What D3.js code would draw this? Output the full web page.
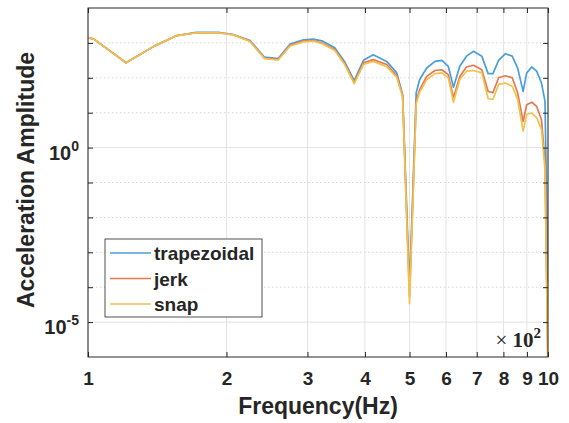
<!DOCTYPE html>
<html>
<head>
<meta charset="utf-8">
<script src="https://cdn.jsdelivr.net/npm/d3@7"></script>
<style>
  body { margin: 0; background: #fff; }
  text { font-family: Arial, "Liberation Sans", sans-serif; font-weight: bold; fill: #262626; }
</style>
</head>
<body>
<div id="chart"></div>
<script>
// frequency samples (Hz)
var freq = [100,103,121,139,156,172,192,207,225,242,259,275,294,309,324,344,361,379,397,417,446,469,483,500,
            517,526,545,568,588,607,623,643,665,689,718,741,759,781,808,836,859,883,899,922,945,968,985,1000];

// amplitudes as log10 exponents
var trapLog = [3.15,3.11,2.43,2.90,3.21,3.30,3.30,3.24,3.07,2.59,2.55,2.97,3.09,3.11,3.05,2.86,2.47,1.92,2.50,2.66,2.47,2.14,1.52,-4.01,
               1.57,1.95,2.28,2.47,2.50,2.33,1.73,2.33,2.62,2.76,2.62,2.12,2.12,2.50,2.69,2.62,2.28,1.61,2.14,2.31,2.19,1.85,1.33,-3.87];
var jerkLog = [3.15,3.11,2.43,2.90,3.21,3.29,3.29,3.23,3.05,2.56,2.52,2.93,3.05,3.07,2.99,2.81,2.42,1.86,2.43,2.52,2.38,2.06,1.49,-4.27,
               1.33,1.66,2.04,2.21,2.23,2.09,1.42,2.04,2.31,2.36,2.23,1.61,1.57,2.00,2.06,2.00,1.57,0.75,1.23,1.30,1.18,0.80,-0.43,-6.5];
var snapLog = [3.15,3.11,2.43,2.90,3.21,3.29,3.29,3.23,3.04,2.55,2.51,2.91,3.03,3.05,2.97,2.78,2.39,1.83,2.38,2.47,2.32,2.01,1.46,-4.47,
               1.26,1.58,1.95,2.12,2.14,2.00,1.30,1.95,2.19,2.21,2.14,1.40,1.38,1.81,1.85,1.76,1.38,0.47,0.95,0.99,0.85,0.52,-0.63,-6.5];

var seriesNames = ["trapezoidal", "jerk", "snap"];
var colors = ["#4a9fd9", "#e4794f", "#f2c14e"];

var xTicks = [100,200,300,400,500,600,700,800,900,1000];
var yMajor = [1e-5, 1e0];
var yDecades = [1e-5,1e-4,1e-3,1e-2,1e-1,1e0,1e1,1e2,1e3];
var yLabels = ["-5", "0"];

var W = 569, H = 423;
var pL = 88, pR = 548, pT = 8, pB = 357;

var svg = d3.select("#chart").append("svg")
  .attr("width", W)
  .attr("height", H);

var x = d3.scaleLog().domain([100, 1000]).range([pL, pR]);
var y = d3.scaleLog().domain([1e-6, 1e4]).range([pB, pT]);

// grid
var grid = svg.append("g");
grid.selectAll(".vg").data(xTicks).enter().append("line")
  .attr("x1", d => x(d)).attr("x2", d => x(d))
  .attr("y1", pT).attr("y2", pB)
  .attr("stroke", "#e3e3e3").attr("stroke-width", 1);
grid.selectAll(".hg").data(yDecades).enter().append("line")
  .attr("x1", pL).attr("x2", pR)
  .attr("y1", d => y(d)).attr("y2", d => y(d))
  .attr("stroke", d => yMajor.indexOf(d) >= 0 ? "#e3e3e3" : "#d6d6d6")
  .attr("stroke-width", 1)
  .attr("stroke-dasharray", d => yMajor.indexOf(d) >= 0 ? null : "1.5,2.5");

// lines
svg.append("clipPath").attr("id", "clip")
  .append("rect").attr("x", pL).attr("y", pT).attr("width", pR - pL).attr("height", pB - pT);

var line = d3.line()
  .x((d, i) => x(freq[i]))
  .y(d => y(Math.pow(10, d)));

var allSeries = [trapLog, jerkLog, snapLog];
svg.append("g").attr("clip-path", "url(#clip)")
  .selectAll("path").data(allSeries).enter().append("path")
  .attr("d", line)
  .attr("fill", "none")
  .attr("stroke", (d, i) => colors[i])
  .attr("stroke-width", 1.7)
  .attr("stroke-linejoin", "round");

// axes (ticks inward, box around)
var xAxisB = d3.axisBottom(x).tickValues(xTicks).tickFormat(d => d / 100).tickSizeInner(-5).tickSizeOuter(0).tickPadding(15);
var gx = svg.append("g").attr("transform", "translate(0," + pB + ")").call(xAxisB);
gx.selectAll("text").attr("font-size", 19).attr("font-family", null);
svg.append("g").attr("transform", "translate(0," + pT + ")")
  .call(d3.axisTop(x).tickValues(xTicks).tickFormat("").tickSizeInner(-5).tickSizeOuter(0));

svg.append("g").attr("transform", "translate(" + pL + ",0)")
  .call(d3.axisLeft(y).tickValues(yDecades).tickFormat("").tickSizeInner(-5).tickSizeOuter(0));
svg.append("g").attr("transform", "translate(" + pR + ",0)")
  .call(d3.axisRight(y).tickValues(yDecades).tickFormat("").tickSizeInner(-5).tickSizeOuter(0));

svg.selectAll(".domain").remove();
svg.selectAll(".tick line").attr("stroke", "#262626");

svg.append("rect")
  .attr("x", pL).attr("y", pT).attr("width", pR - pL).attr("height", pB - pT)
  .attr("fill", "none").attr("stroke", "#262626").attr("stroke-width", 1);

// y tick labels 10^n
var yl = svg.selectAll(".ylab").data(yMajor).enter().append("text")
  .attr("x", 79).attr("y", d => y(d) + 12)
  .attr("text-anchor", "end")
  .attr("font-size", 20);
yl.append("tspan").text("10");
yl.append("tspan").attr("dy", -9).attr("font-size", 14).text((d, i) => yLabels[i]);

// x10^2 multiplier
var mult = svg.append("text")
  .attr("x", 541).attr("y", 347)
  .attr("text-anchor", "end")
  .style("font-family", "'Liberation Serif', 'DejaVu Serif', serif")
  .style("font-size", "21px");
mult.append("tspan").style("font-weight", "normal").text("\u00d7 ");
mult.append("tspan").text("10");
mult.append("tspan").attr("dy", -9).style("font-size", "15px").text("2");

// axis titles
svg.append("text")
  .attr("x", 318).attr("y", 414)
  .attr("text-anchor", "middle")
  .attr("font-size", 23)
  .text("Frequency(Hz)");
svg.append("text")
  .attr("transform", "translate(34,180) rotate(-90)")
  .attr("text-anchor", "middle")
  .attr("font-size", 23)
  .text("Acceleration Amplitude");

// legend
var lg = svg.append("g");
lg.append("rect")
  .attr("x", 105).attr("y", 239).attr("width", 157).attr("height", 78)
  .attr("fill", "#fff").attr("stroke", "#262626").attr("stroke-width", 0.8);
var items = lg.selectAll(".item").data(seriesNames).enter().append("g")
  .attr("transform", (d, i) => "translate(0," + (253 + i * 25.5) + ")");
items.append("line")
  .attr("x1", 110).attr("x2", 151)
  .attr("stroke", (d, i) => colors[i]).attr("stroke-width", 1.5);
items.append("text")
  .attr("x", 154).attr("y", 7)
  .attr("font-size", 19)
  .text(d => d);
</script>
</body>
</html>
